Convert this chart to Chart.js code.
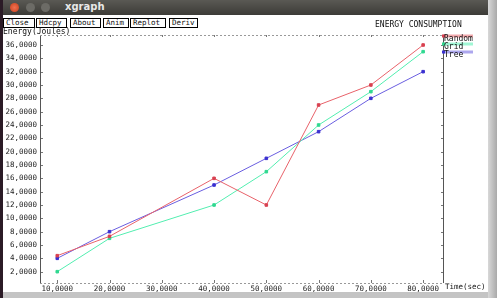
<!DOCTYPE html>
<html><head><meta charset="utf-8">
<script src="https://cdn.jsdelivr.net/npm/chart.js@4"></script>
<style>
html,body{margin:0;padding:0;width:497px;height:298px;overflow:hidden;background:#c4c4c4;font-family:"DejaVu Sans Mono","Liberation Mono",monospace;}
#leftstrip{position:absolute;left:0;top:0;width:3px;height:298px;background:#2b1b26;}
#rightstrip{position:absolute;left:488px;top:0;width:9px;height:298px;background:linear-gradient(90deg,#d8d8d8,#a9a9a9);}
#win{position:absolute;left:3px;top:15px;width:485px;height:277px;background:#fff;}
#titlebar{position:absolute;left:3px;top:0;width:485px;height:15px;background:linear-gradient(#5a5954,#3c3b37);}
.dot{position:absolute;top:3px;width:9px;height:9px;border-radius:50%;}
#tname{position:absolute;left:62px;top:1px;color:#e8e8e8;font:bold 10px "DejaVu Sans",sans-serif;}
.btn{position:absolute;top:18px;height:8px;border:1px solid #000;background:#fff;font-size:7.5px;line-height:8px;padding:0 2px;color:#111;}
.txt{position:absolute;font-size:7.5px;color:#111;white-space:nowrap;z-index:5;}
canvas{position:absolute;left:0;top:0;}
</style></head>
<body>
<div id="leftstrip"></div>
<div id="rightstrip"></div>
<div id="win"></div>
<div id="titlebar">
  <div class="dot" style="left:7px;background:radial-gradient(#f07050,#c8401c);"></div>
  <div class="dot" style="left:23px;background:#6c6b66;"></div>
  <div class="dot" style="left:38px;background:#6c6b66;"></div>
  <div id="tname">xgraph</div>
</div>
<div class="btn" style="left:3px;width:26px;">Close</div>
<div class="btn" style="left:36px;width:25px;">Hdcpy</div>
<div class="btn" style="left:70px;width:25px;">About</div>
<div class="btn" style="left:103px;width:20px;">Anim</div>
<div class="btn" style="left:130px;width:30px;">Replot</div>
<div class="btn" style="left:169px;width:23px;">Deriv</div>
<div class="txt" style="left:375px;top:20px;font-size:8px;">ENERGY CONSUMPTION</div>
<div class="txt" style="left:3px;top:27px;font-size:8px;">Energy(Joules)</div>
<div class="txt" style="left:445px;top:282px;">Time(sec)</div>
<canvas id="c" width="497" height="298"></canvas>
<script>
const timeValues = [10, 20, 40, 50, 60, 70, 80];
const randomEnergy = [4.4, 7.3, 16, 12, 27, 30, 36];
const gridEnergy = [2, 7, 12, 17, 24, 29, 35];
const treeEnergy = [4, 8, 15, 19, 23, 28, 32];
const seriesNames = ["Random", "Grid", "Tree"];
const xTickValues = [10, 20, 30, 40, 50, 60, 70, 80];
const yTickValues = [2, 4, 6, 8, 10, 12, 14, 16, 18, 20, 22, 24, 26, 28, 30, 32, 34, 36];

const colors = ["#e8626a", "#52eeb0", "#6a5ee0"];
const markColors = ["#d84050", "#30d890", "#3a30d0"];
const FONT = {family: "DejaVu Sans Mono", size: 7.5};
const fmt = v => v.toFixed(4).replace('.', ',');

function toPts(ys){ return timeValues.map((x,i)=>({x:x, y:ys[i]})); }
const seriesData = [randomEnergy, gridEnergy, treeEnergy];

const framePlugin = {
  id: 'frame',
  beforeDatasetsDraw(chart){
    const {ctx, chartArea:a, scales} = chart;
    ctx.save();
    ctx.lineWidth = 1;
    ctx.strokeStyle = '#555';
    ctx.beginPath();
    ctx.moveTo(a.left+0.5, a.top); ctx.lineTo(a.left+0.5, a.bottom);
    ctx.moveTo(a.right+0.5, a.top); ctx.lineTo(a.right+0.5, a.bottom);
    ctx.stroke();
    ctx.setLineDash([2,2]);
    ctx.strokeStyle = '#999';
    ctx.beginPath();
    ctx.moveTo(a.left, a.top+0.5); ctx.lineTo(a.right, a.top+0.5);
    ctx.moveTo(a.left, a.bottom+0.5); ctx.lineTo(a.right, a.bottom+0.5);
    ctx.stroke();
    ctx.setLineDash([]);
    ctx.strokeStyle = '#777';
    ctx.beginPath();
    yTickValues.forEach(v=>{
      const y = Math.round(scales.y.getPixelForValue(v))+0.5;
      ctx.moveTo(a.left+1, y); ctx.lineTo(a.left+3, y);
      ctx.moveTo(a.right-2, y); ctx.lineTo(a.right, y);
    });
    xTickValues.forEach(v=>{
      const x = Math.round(scales.x.getPixelForValue(v))+0.5;
      ctx.moveTo(x, a.bottom); ctx.lineTo(x, a.bottom-3);
      ctx.moveTo(x, a.top); ctx.lineTo(x, a.top+2);
    });
    ctx.stroke();
    ctx.restore();
  },
  afterDraw(chart){
    const {ctx, chartArea:a} = chart;
    ctx.save();
    chart.data.datasets.forEach((ds,i)=>{
      const y = 36 + i*8;
      ctx.globalAlpha = 0.55;
      ctx.fillStyle = ds.borderColor;
      ctx.fillRect(a.right, y-1.5, 30, 3);
      ctx.globalAlpha = 1;
      ctx.fillStyle = ds.pointBackgroundColor;
      ctx.fillRect(a.right-1, y-1.5, 3, 3);
      ctx.fillStyle = '#111';
      ctx.font = '8px "DejaVu Sans Mono"';
      ctx.textBaseline = 'alphabetic';
      ctx.fillText(ds.label, a.right+1, y+5);
    });
    ctx.restore();
  }
};

new Chart(document.getElementById('c'), {
  type: 'line',
  data: {
    datasets: seriesData.map((ys,i)=>({
      label: seriesNames[i],
      data: toPts(ys),
      borderColor: colors[i],
      backgroundColor: colors[i],
      pointBackgroundColor: markColors[i],
      pointBorderColor: markColors[i],
      borderWidth: 1,
      pointStyle: 'rect',
      pointRadius: 1.8,
      tension: 0,
      clip: false
    }))
  },
  options: {
    responsive: false,
    animation: false,
    devicePixelRatio: 1,
    layout: {padding: {left: 0, right: 54, top: 35, bottom: 3}},
    plugins: {legend: {display: false}, tooltip: {enabled: false}},
    scales: {
      x: {
        type: 'linear', min: 6.7, max: 83.8,
        afterFit: s => { s.height = 12; },
        afterBuildTicks: s => { s.ticks = xTickValues.map(v=>({value:v})); },
        grid: {display: false, drawTicks: false},
        border: {display: false},
        ticks: {font: FONT, color: '#222', padding: 2, maxRotation: 0, autoSkip: false, callback: v => fmt(v)}
      },
      y: {
        type: 'linear', min: 0.3, max: 37.5,
        afterFit: s => { s.width = 40; },
        afterBuildTicks: s => { s.ticks = yTickValues.map(v=>({value:v})); },
        grid: {display: false, drawTicks: false},
        border: {display: false},
        ticks: {font: FONT, color: '#222', padding: 3, autoSkip: false, callback: v => fmt(v)}
      }
    }
  },
  plugins: [framePlugin]
});
</script>
</body></html>
